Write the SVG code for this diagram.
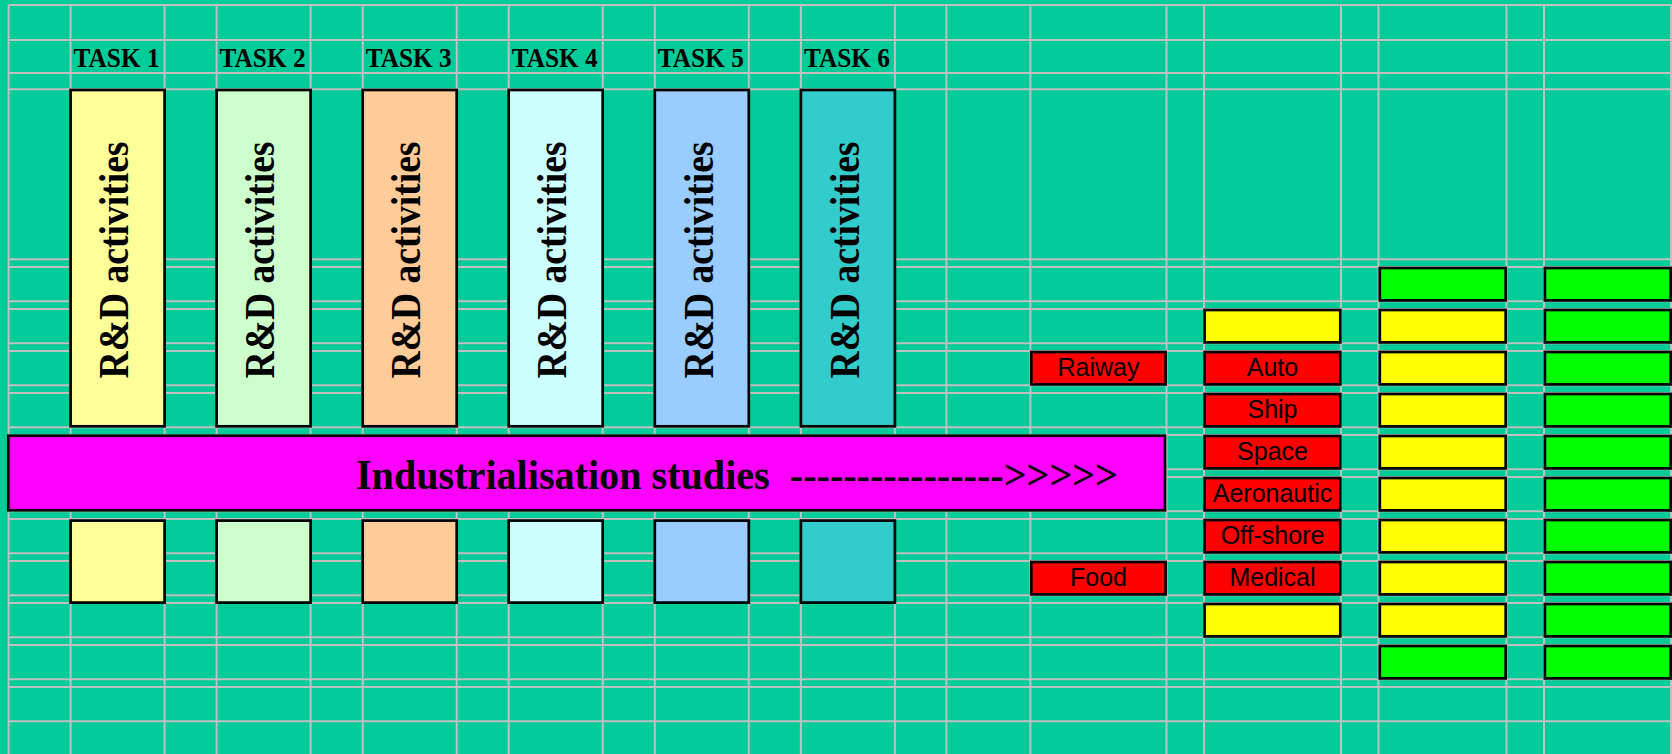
<svg xmlns="http://www.w3.org/2000/svg" width="1672" height="754" viewBox="0 0 1672 754">
<style>
.grid line{stroke:#C0C0C0;stroke-width:2}
.box{stroke:#000;stroke-width:2.7}
.task{font-family:"Liberation Serif","Times New Roman",serif;font-weight:bold;font-size:27px;fill:#000}
.rd{font-family:"Liberation Serif","Times New Roman",serif;font-weight:bold;font-size:42px;fill:#000}
.ind{font-family:"Liberation Serif","Times New Roman",serif;font-weight:bold;font-size:43px;fill:#000}
.lbl{font-family:"Liberation Sans",Arial,sans-serif;font-size:25px;fill:#000;text-anchor:middle}
.t1{fill:#FFFF99}.t2{fill:#CCFFCC}.t3{fill:#FFCC99}.t4{fill:#CCFFFF}.t5{fill:#99CCFF}.t6{fill:#33CCCC}
.red{fill:#FF0000}.yel{fill:#FFFF00}.grn{fill:#00FF00}.mag{fill:#FF00FF}
</style>
<rect x="0" y="0" width="1672" height="754" fill="#00CC99"/>
<g class="grid" id="grid">
<line x1="8.6" y1="5" x2="1672" y2="5"/>
<line x1="8.6" y1="40" x2="1672" y2="40"/>
<line x1="8.6" y1="73" x2="1672" y2="73"/>
<line x1="8.6" y1="89.3" x2="1672" y2="89.3"/>
<line x1="8.6" y1="259.3" x2="1672" y2="259.3"/>
<line x1="8.6" y1="267" x2="1672" y2="267"/>
<line x1="8.6" y1="301.3" x2="1672" y2="301.3"/>
<line x1="8.6" y1="309" x2="1672" y2="309"/>
<line x1="8.6" y1="343.3" x2="1672" y2="343.3"/>
<line x1="8.6" y1="351" x2="1672" y2="351"/>
<line x1="8.6" y1="385.3" x2="1672" y2="385.3"/>
<line x1="8.6" y1="393" x2="1672" y2="393"/>
<line x1="8.6" y1="427.3" x2="1672" y2="427.3"/>
<line x1="8.6" y1="435" x2="1672" y2="435"/>
<line x1="8.6" y1="469.3" x2="1672" y2="469.3"/>
<line x1="8.6" y1="477" x2="1672" y2="477"/>
<line x1="8.6" y1="511.3" x2="1672" y2="511.3"/>
<line x1="8.6" y1="519" x2="1672" y2="519"/>
<line x1="8.6" y1="553.3" x2="1672" y2="553.3"/>
<line x1="8.6" y1="561" x2="1672" y2="561"/>
<line x1="8.6" y1="595.3" x2="1672" y2="595.3"/>
<line x1="8.6" y1="603" x2="1672" y2="603"/>
<line x1="8.6" y1="637.3" x2="1672" y2="637.3"/>
<line x1="8.6" y1="645" x2="1672" y2="645"/>
<line x1="8.6" y1="679.3" x2="1672" y2="679.3"/>
<line x1="8.6" y1="687" x2="1672" y2="687"/>
<line x1="8.6" y1="721.3" x2="1672" y2="721.3"/>
<line x1="8.6" y1="5" x2="8.6" y2="754"/>
<line x1="70.6" y1="5" x2="70.6" y2="754"/>
<line x1="164.6" y1="5" x2="164.6" y2="754"/>
<line x1="216.6" y1="5" x2="216.6" y2="754"/>
<line x1="310.6" y1="5" x2="310.6" y2="754"/>
<line x1="362.7" y1="5" x2="362.7" y2="754"/>
<line x1="456.7" y1="5" x2="456.7" y2="754"/>
<line x1="508.7" y1="5" x2="508.7" y2="754"/>
<line x1="602.7" y1="5" x2="602.7" y2="754"/>
<line x1="654.8" y1="5" x2="654.8" y2="754"/>
<line x1="748.8" y1="5" x2="748.8" y2="754"/>
<line x1="800.9" y1="5" x2="800.9" y2="754"/>
<line x1="894.9" y1="5" x2="894.9" y2="754"/>
<line x1="946.4" y1="5" x2="946.4" y2="754"/>
<line x1="1030.4" y1="5" x2="1030.4" y2="754"/>
<line x1="1166.5" y1="5" x2="1166.5" y2="754"/>
<line x1="1204" y1="5" x2="1204" y2="754"/>
<line x1="1341" y1="5" x2="1341" y2="754"/>
<line x1="1378.5" y1="5" x2="1378.5" y2="754"/>
<line x1="1506.5" y1="5" x2="1506.5" y2="754"/>
<line x1="1544" y1="5" x2="1544" y2="754"/>
<line x1="1671" y1="5" x2="1671" y2="754"/>
</g>

<g id="task1">
<text class="task" x="116.6" y="66.7" text-anchor="middle" textLength="86" lengthAdjust="spacingAndGlyphs">TASK 1</text>
<rect class="box t1" x="70.6" y="90" width="94" height="336.3"/>
<text class="rd" transform="translate(128.3,260) rotate(-90)" text-anchor="middle" textLength="237" lengthAdjust="spacingAndGlyphs">R&amp;D activities</text>
<rect class="box t1" x="70.6" y="520.6" width="94" height="82"/>
</g>
<g id="task2">
<text class="task" x="262.6" y="66.7" text-anchor="middle" textLength="86" lengthAdjust="spacingAndGlyphs">TASK 2</text>
<rect class="box t2" x="216.6" y="90" width="94" height="336.3"/>
<text class="rd" transform="translate(274.3,260) rotate(-90)" text-anchor="middle" textLength="237" lengthAdjust="spacingAndGlyphs">R&amp;D activities</text>
<rect class="box t2" x="216.6" y="520.6" width="94" height="82"/>
</g>
<g id="task3">
<text class="task" x="408.7" y="66.7" text-anchor="middle" textLength="86" lengthAdjust="spacingAndGlyphs">TASK 3</text>
<rect class="box t3" x="362.7" y="90" width="94" height="336.3"/>
<text class="rd" transform="translate(420.4,260) rotate(-90)" text-anchor="middle" textLength="237" lengthAdjust="spacingAndGlyphs">R&amp;D activities</text>
<rect class="box t3" x="362.7" y="520.6" width="94" height="82"/>
</g>
<g id="task4">
<text class="task" x="554.7" y="66.7" text-anchor="middle" textLength="86" lengthAdjust="spacingAndGlyphs">TASK 4</text>
<rect class="box t4" x="508.7" y="90" width="94" height="336.3"/>
<text class="rd" transform="translate(566.4,260) rotate(-90)" text-anchor="middle" textLength="237" lengthAdjust="spacingAndGlyphs">R&amp;D activities</text>
<rect class="box t4" x="508.7" y="520.6" width="94" height="82"/>
</g>
<g id="task5">
<text class="task" x="700.8" y="66.7" text-anchor="middle" textLength="86" lengthAdjust="spacingAndGlyphs">TASK 5</text>
<rect class="box t5" x="654.8" y="90" width="94" height="336.3"/>
<text class="rd" transform="translate(712.5,260) rotate(-90)" text-anchor="middle" textLength="237" lengthAdjust="spacingAndGlyphs">R&amp;D activities</text>
<rect class="box t5" x="654.8" y="520.6" width="94" height="82"/>
</g>
<g id="task6">
<text class="task" x="846.9" y="66.7" text-anchor="middle" textLength="86" lengthAdjust="spacingAndGlyphs">TASK 6</text>
<rect class="box t6" x="800.9" y="90" width="94" height="336.3"/>
<text class="rd" transform="translate(858.6,260) rotate(-90)" text-anchor="middle" textLength="237" lengthAdjust="spacingAndGlyphs">R&amp;D activities</text>
<rect class="box t6" x="800.9" y="520.6" width="94" height="82"/>
</g>

<g id="industrialisation">
<rect class="box mag" x="8.3" y="435.7" width="1156.7" height="74.6"/>
<text class="ind" x="356" y="489" textLength="762" lengthAdjust="spacingAndGlyphs" xml:space="preserve">Industrialisation studies  ---------------->>>>></text>
</g>

<g id="sector-col-1">
<g id="raiway"><rect class="box red" x="1031.3" y="352" width="134.3" height="32.4"/><text class="lbl" x="1098.5" y="375.5">Raiway</text></g>
<g id="food"><rect class="box red" x="1031.3" y="562" width="134.3" height="32.4"/><text class="lbl" x="1098.5" y="585.5">Food</text></g>
</g>

<g id="sector-col-2">
<g id="c2-r1"><rect class="box yel" x="1204.6" y="310" width="135.7" height="32.4"/></g>
<g id="auto"><rect class="box red" x="1204.6" y="352" width="135.7" height="32.4"/><text class="lbl" x="1272.5" y="375.5">Auto</text></g>
<g id="ship"><rect class="box red" x="1204.6" y="394" width="135.7" height="32.4"/><text class="lbl" x="1272.5" y="417.5">Ship</text></g>
<g id="space"><rect class="box red" x="1204.6" y="436" width="135.7" height="32.4"/><text class="lbl" x="1272.5" y="459.5">Space</text></g>
<g id="aeronautic"><rect class="box red" x="1204.6" y="478" width="135.7" height="32.4"/><text class="lbl" x="1272.5" y="501.5">Aeronautic</text></g>
<g id="offshore"><rect class="box red" x="1204.6" y="520" width="135.7" height="32.4"/><text class="lbl" x="1272.5" y="543.5">Off-shore</text></g>
<g id="medical"><rect class="box red" x="1204.6" y="562" width="135.7" height="32.4"/><text class="lbl" x="1272.5" y="585.5">Medical</text></g>
<g id="c2-r8"><rect class="box yel" x="1204.6" y="604" width="135.7" height="32.4"/></g>
</g>

<g id="sector-col-3">
<rect id="c3-r0" class="box grn" x="1379.8" y="268" width="125.9" height="32.4"/>
<rect id="c3-r1" class="box yel" x="1379.8" y="310" width="125.9" height="32.4"/>
<rect id="c3-r2" class="box yel" x="1379.8" y="352" width="125.9" height="32.4"/>
<rect id="c3-r3" class="box yel" x="1379.8" y="394" width="125.9" height="32.4"/>
<rect id="c3-r4" class="box yel" x="1379.8" y="436" width="125.9" height="32.4"/>
<rect id="c3-r5" class="box yel" x="1379.8" y="478" width="125.9" height="32.4"/>
<rect id="c3-r6" class="box yel" x="1379.8" y="520" width="125.9" height="32.4"/>
<rect id="c3-r7" class="box yel" x="1379.8" y="562" width="125.9" height="32.4"/>
<rect id="c3-r8" class="box yel" x="1379.8" y="604" width="125.9" height="32.4"/>
<rect id="c3-r9" class="box grn" x="1379.8" y="646" width="125.9" height="32.4"/>
</g>

<g id="sector-col-4">
<rect id="c4-r0" class="box grn" x="1544.9" y="268" width="125.8" height="32.4"/>
<rect id="c4-r1" class="box grn" x="1544.9" y="310" width="125.8" height="32.4"/>
<rect id="c4-r2" class="box grn" x="1544.9" y="352" width="125.8" height="32.4"/>
<rect id="c4-r3" class="box grn" x="1544.9" y="394" width="125.8" height="32.4"/>
<rect id="c4-r4" class="box grn" x="1544.9" y="436" width="125.8" height="32.4"/>
<rect id="c4-r5" class="box grn" x="1544.9" y="478" width="125.8" height="32.4"/>
<rect id="c4-r6" class="box grn" x="1544.9" y="520" width="125.8" height="32.4"/>
<rect id="c4-r7" class="box grn" x="1544.9" y="562" width="125.8" height="32.4"/>
<rect id="c4-r8" class="box grn" x="1544.9" y="604" width="125.8" height="32.4"/>
<rect id="c4-r9" class="box grn" x="1544.9" y="646" width="125.8" height="32.4"/>
</g>
<g id="connectors"/>
</svg>
